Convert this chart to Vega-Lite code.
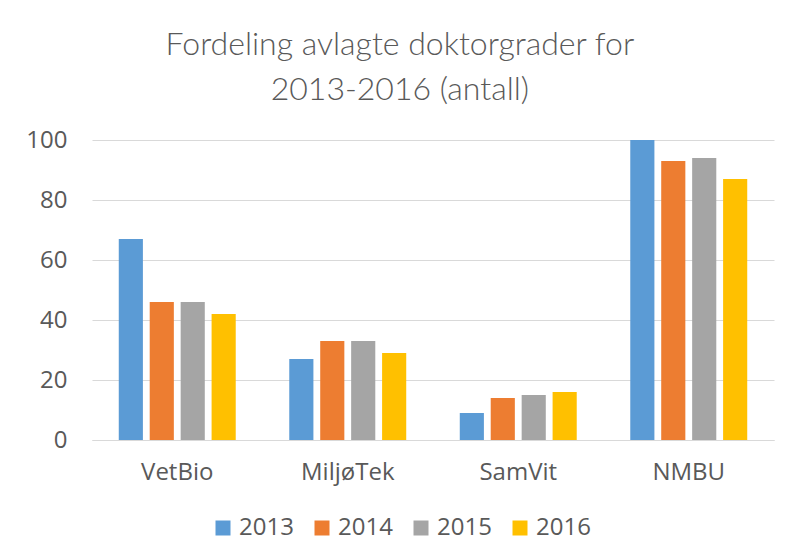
{
  "$schema": "https://vega.github.io/schema/vega-lite/v6.json",
  "width": 682,
  "height": 300,
  "padding": {"left": 25, "top": 29, "right": 13, "bottom": 5},
  "background": "white",
  "title": {
    "text": ["Fordeling avlagte doktorgrader for", "2013-2016 (antall)"],
    "font": "Lato",
    "fontSize": 32,
    "fontWeight": 300,
    "color": "#595959",
    "lineHeight": 45,
    "anchor": "middle",
    "frame": "bounds",
    "offset": 21
  },
  "data": {
    "values": [
      {"group": "VetBio", "year": "2013", "value": 67},
      {"group": "VetBio", "year": "2014", "value": 46},
      {"group": "VetBio", "year": "2015", "value": 46},
      {"group": "VetBio", "year": "2016", "value": 42},
      {"group": "MiljøTek", "year": "2013", "value": 27},
      {"group": "MiljøTek", "year": "2014", "value": 33},
      {"group": "MiljøTek", "year": "2015", "value": 33},
      {"group": "MiljøTek", "year": "2016", "value": 29},
      {"group": "SamVit", "year": "2013", "value": 9},
      {"group": "SamVit", "year": "2014", "value": 14},
      {"group": "SamVit", "year": "2015", "value": 15},
      {"group": "SamVit", "year": "2016", "value": 16},
      {"group": "NMBU", "year": "2013", "value": 100},
      {"group": "NMBU", "year": "2014", "value": 93},
      {"group": "NMBU", "year": "2015", "value": 94},
      {"group": "NMBU", "year": "2016", "value": 87}
    ]
  },
  "mark": {"type": "bar"},
  "encoding": {
    "x": {
      "field": "group",
      "type": "nominal",
      "sort": ["VetBio", "MiljøTek", "SamVit", "NMBU"],
      "scale": {"paddingInner": 0.314, "paddingOuter": 0.157},
      "axis": {
        "title": null,
        "labelAngle": 0,
        "labelFont": "Open Sans",
        "labelFontSize": 24,
        "labelColor": "#595959",
        "ticks": false,
        "tickSize": 0,
        "labelPadding": 20,
        "domainColor": "#d9d9d9",
        "domainWidth": 1,
        "grid": false
      }
    },
    "xOffset": {
      "field": "year",
      "type": "nominal",
      "scale": {"paddingInner": 0.22, "paddingOuter": 0}
    },
    "y": {
      "field": "value",
      "type": "quantitative",
      "scale": {"domain": [0, 100]},
      "axis": {
        "title": null,
        "values": [0, 20, 40, 60, 80, 100],
        "domain": false,
        "ticks": false,
        "tickSize": 0,
        "labelPadding": 25,
        "labelFont": "Open Sans",
        "labelFontSize": 24,
        "labelColor": "#595959",
        "gridColor": "#d9d9d9",
        "gridWidth": 1
      }
    },
    "color": {
      "field": "year",
      "type": "nominal",
      "scale": {
        "domain": ["2013", "2014", "2015", "2016"],
        "range": ["#5b9bd5", "#ed7d31", "#a5a5a5", "#ffc000"]
      },
      "legend": {
        "orient": "none",
        "legendX": 119,
        "legendY": 376,
        "direction": "horizontal",
        "title": null,
        "symbolType": "square",
        "symbolSize": 225,
        "symbolStrokeWidth": 0,
        "labelFont": "Open Sans",
        "labelFontSize": 24,
        "labelColor": "#595959",
        "labelOffset": 4,
        "columnPadding": 16
      }
    }
  },
  "config": {"view": {"stroke": null}}
}
